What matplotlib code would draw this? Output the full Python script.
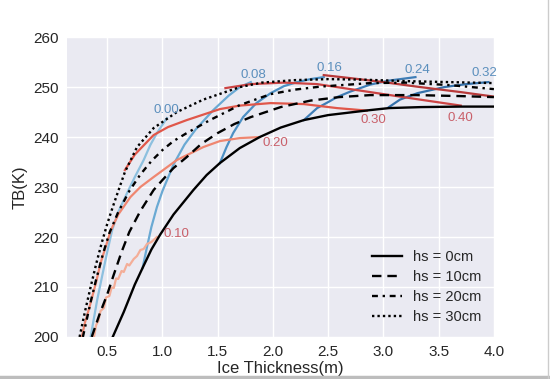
import matplotlib
matplotlib.use("Agg")
import matplotlib.pyplot as plt
from matplotlib.lines import Line2D

plt.rcParams['font.family'] = ['Liberation Sans', 'DejaVu Sans']

# ---- black reference curves (hs = snow depth) ----
hs0_x = [0.55, 0.65, 0.75, 0.82, 0.90, 0.98, 1.10, 1.28, 1.40, 1.52, 1.70, 1.88, 2.07, 2.28, 2.50, 2.88, 3.05, 3.34, 3.70, 4.00]
hs0_y = [200.0, 205.0, 210.5, 213.8, 217.5, 220.5, 224.5, 229.4, 232.4, 234.8, 237.8, 240.0, 241.9, 243.4, 244.4, 245.4, 245.8, 246.0, 246.1, 246.1]

hs10_x = [0.36, 0.43, 0.50, 0.56, 0.63, 0.70, 0.80, 0.92, 1.00, 1.10, 1.22, 1.35, 1.50, 1.65, 1.80, 2.07, 2.34, 2.60, 2.88, 3.30, 3.70, 4.00]
hs10_y = [200.0, 204.5, 208.5, 212.5, 217.0, 221.0, 225.2, 229.4, 231.4, 233.8, 236.0, 238.6, 240.8, 242.6, 244.0, 246.0, 247.3, 248.0, 248.4, 248.4, 248.2, 248.0]

hs20_x = [0.28, 0.35, 0.40, 0.46, 0.52, 0.60, 0.70, 0.80, 0.90, 1.00, 1.10, 1.22, 1.43, 1.70, 1.98, 2.20, 2.43, 2.88, 3.20, 3.60, 4.00]
hs20_y = [200.0, 207.0, 211.5, 216.5, 220.8, 225.0, 229.2, 232.5, 235.2, 237.4, 239.2, 240.8, 243.4, 246.4, 248.6, 249.5, 250.1, 250.8, 250.9, 250.4, 249.6]

hs30_x = [0.25, 0.30, 0.35, 0.40, 0.45, 0.50, 0.55, 0.60, 0.66, 0.77, 0.92, 1.13, 1.37, 1.70, 1.90, 2.20, 2.50, 2.80, 3.20, 3.60, 4.00]
hs30_y = [200.0, 205.2, 210.0, 214.6, 218.8, 222.6, 226.0, 229.2, 233.0, 238.0, 241.8, 245.0, 247.5, 250.0, 250.9, 251.4, 251.6, 251.5, 251.2, 251.0, 250.8]

# ---- blue iso-lines ----
b000_x = [0.35, 0.41, 0.46, 0.50, 0.545, 0.60, 0.68, 0.75, 0.83, 0.89, 0.95, 1.04]
b000_y = [200.0, 207.5, 212.8, 217.0, 221.4, 225.0, 228.8, 232.0, 235.4, 238.4, 240.8, 243.8]
b008_x = [0.82, 0.86, 0.90, 0.95, 1.00, 1.10, 1.20, 1.30, 1.46, 1.60, 1.70, 1.80]
b008_y = [213.8, 218.0, 222.0, 226.0, 229.2, 234.5, 238.5, 241.5, 245.4, 248.3, 250.0, 251.0]
b016_x = [1.52, 1.58, 1.64, 1.73, 1.85, 1.98, 2.10, 2.22, 2.34, 2.46]
b016_y = [234.8, 238.0, 240.8, 244.0, 246.8, 248.8, 250.2, 251.0, 251.6, 252.0]
b024_x = [2.28, 2.40, 2.50, 2.58, 2.70, 2.88, 3.05, 3.29]
b024_y = [243.4, 245.8, 247.0, 248.0, 249.1, 250.5, 251.3, 252.0]
b032_x = [3.05, 3.15, 3.31, 3.55, 3.75, 3.95]
b032_y = [246.0, 247.5, 248.8, 250.0, 250.6, 251.0]

# ---- red iso-lines ----
r010_x = [0.38, 0.40, 0.42, 0.44, 0.47, 0.49, 0.52, 0.54, 0.56, 0.58, 0.60, 0.63, 0.65, 0.68, 0.70, 0.74, 0.77, 0.80, 0.83, 0.86, 0.90, 0.95]
r010_y = [200.0, 202.4, 203.2, 205.2, 205.8, 207.9, 208.2, 209.9, 209.8, 211.7, 211.6, 213.2, 213.0, 214.6, 214.3, 215.6, 216.2, 217.4, 217.6, 218.6, 219.0, 220.0]
r020_x = [0.27, 0.30, 0.34, 0.40, 0.44, 0.50, 0.53, 0.60, 0.71, 0.80, 0.92, 1.13, 1.37, 1.52, 1.70, 1.88]
r020_y = [200.0, 203.0, 206.0, 211.0, 214.8, 219.0, 221.2, 224.5, 228.0, 230.0, 232.0, 235.4, 238.0, 239.2, 239.8, 240.0]
r030_x = [0.66, 0.75, 0.92, 1.05, 1.22, 1.52, 1.70, 1.98, 2.28, 2.58, 2.85]
r030_y = [233.4, 236.5, 240.4, 242.0, 243.4, 245.6, 246.3, 246.8, 246.6, 245.8, 245.3]
r040_x = [1.57, 1.80, 2.10, 2.40, 2.70, 3.00, 3.30, 3.70]
r040_y = [249.8, 250.6, 250.9, 250.6, 249.6, 248.6, 247.6, 246.3]
r050_x = [2.46, 2.70, 3.00, 3.30, 3.70, 4.00]
r050_y = [252.4, 251.8, 251.0, 250.1, 249.0, 248.1]

blue_labels = ["0.00", "0.08", "0.16", "0.24", "0.32"]
blue_label_x = [1.035, 1.82, 2.51, 3.31, 3.91]
blue_label_y = [245.4, 252.4, 253.8, 253.4, 252.8]
red_labels = ["0.10", "0.20", "0.30", "0.40"]
red_label_x = [1.13, 2.02, 2.91, 3.70]
red_label_y = [220.6, 238.8, 243.4, 243.8]

legend_labels = ["hs = 0cm", "hs = 10cm", "hs = 20cm", "hs = 30cm"]

fig = plt.figure(figsize=(5.5, 3.79), dpi=100)
fig.patch.set_facecolor("white")
ax = fig.add_axes([0.122, 0.111, 0.776, 0.791])
ax.set_facecolor("#EAEAF2")
ax.grid(True, color="white", linewidth=1.0)
ax.set_axisbelow(True)
for s in ax.spines.values():
    s.set_visible(False)

blue_cols = ["#8dc0df", "#6aa9d3", "#4d90c4", "#3f7db6", "#3571aa"]
red_cols = ["#f4ae98", "#ef8670", "#e0574a", "#cc4444", "#b83a3a"]

for (xs, ys), c in zip([(b000_x, b000_y), (b008_x, b008_y), (b016_x, b016_y),
                        (b024_x, b024_y), (b032_x, b032_y)], blue_cols):
    ax.plot(xs, ys, color=c, lw=1.6, zorder=2)
for (xs, ys), c in zip([(r010_x, r010_y), (r020_x, r020_y), (r030_x, r030_y),
                        (r040_x, r040_y), (r050_x, r050_y)], red_cols):
    ax.plot(xs, ys, color=c, lw=1.6, zorder=2)

ls_list = ["-", (0, (4, 2.5)), (0, (2.5, 2, 1, 2)), (0, (1, 1.3))]
h = []
for (xs, ys), ls, lab in zip([(hs0_x, hs0_y), (hs10_x, hs10_y), (hs20_x, hs20_y), (hs30_x, hs30_y)],
                             ls_list, legend_labels):
    ln, = ax.plot(xs, ys, color="black", lw=1.7, ls=ls, label=lab, zorder=3)
    h.append(ln)

for t, x, y in zip(blue_labels, blue_label_x, blue_label_y):
    ax.text(x, y, t, color="#5b8fbd", fontsize=9.5, ha="center", va="center")
for t, x, y in zip(red_labels, red_label_x, red_label_y):
    ax.text(x, y, t, color="#c9606a", fontsize=9.5, ha="center", va="center")

ax.set_xlim(0.137, 4.0)
ax.set_ylim(200, 260)
ax.set_xticks([0.5, 1.0, 1.5, 2.0, 2.5, 3.0, 3.5, 4.0])
ax.set_yticks([200, 210, 220, 230, 240, 250, 260])
ax.tick_params(axis="both", length=0, labelsize=11, colors="#262626", pad=6)
ax.set_xlabel("Ice Thickness(m)", fontsize=12, color="#262626", labelpad=1)
ax.set_ylabel("TB(K)", fontsize=12, color="#262626", labelpad=4)

leg = ax.legend(handles=h, loc="lower right", frameon=False, fontsize=10.5,
                handlelength=2.05, handletextpad=0.75, labelspacing=0.42,
                borderpad=0, borderaxespad=0,
                bbox_to_anchor=(0.970, 0.043))
for t in leg.get_texts():
    t.set_color("#262626")

# image frame (grey border at right and bottom)
fig.add_artist(Line2D([0, 1], [0.004, 0.004], transform=fig.transFigure, color="#bdbdbd", lw=2.5))
fig.add_artist(Line2D([0.997, 0.997], [0, 1], transform=fig.transFigure, color="#cccccc", lw=1))

fig.savefig("out.png", dpi=100, facecolor="white")
